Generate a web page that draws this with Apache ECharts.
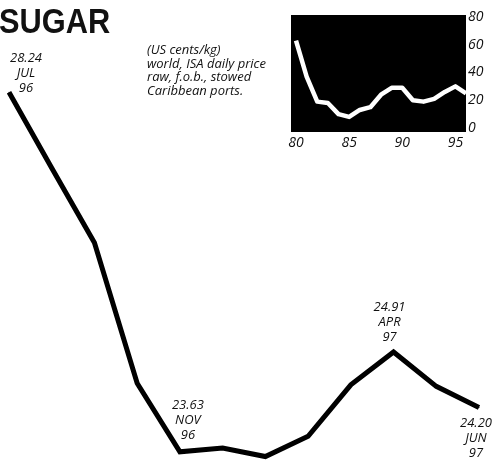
<!DOCTYPE html>
<html>
<head>
<meta charset="utf-8">
<script src="https://cdn.jsdelivr.net/npm/echarts@6/dist/echarts.min.js"></script>
<style>
html,body{margin:0;padding:0;background:#fff;}
#chart{width:495px;height:462px;}
</style>
</head>
<body>
<div id="chart"></div>
<script>
// Main chart: monthly sugar price, Jul 96 - Jun 97 (US cents/kg)
var months = ['JUL','AUG','SEP','OCT','NOV','DEC','JAN','FEB','MAR','APR','MAY','JUN'];
var monthYears = ['96','96','96','96','96','96','97','97','97','97','97','97'];
var prices = [28.24, 27.27, 26.31, 24.51, 23.63, 23.68, 23.57, 23.83, 24.49, 24.91, 24.47, 24.20];
var annotated = [0, 4, 9, 11];

// Inset: yearly prices 1980-1996
var insetYears = [80,81,82,83,84,85,86,87,88,89,90,91,92,93,94,95,96];
var insetValues = [63, 37, 19, 18, 10, 8, 13, 15, 24, 29, 29, 20, 19, 21, 26, 30, 25];
var insetYTicks = [0, 20, 40, 60, 80];
var insetXTicks = [80, 85, 90, 95];

var labelFont = '"Open Sans", Lato, "DejaVu Sans", sans-serif';
var axisFont = '"Open Sans", Lato, "DejaVu Sans", sans-serif';

var labelPlacement = {
  0: {position: 'top', distance: -4, offset: [17, 0]},
  4: {position: 'top', distance: 9, offset: [8, 0]},
  9: {position: 'top', distance: 7, offset: [-4, 0]},
  11: {position: 'bottom', distance: 8, offset: [-3, 0]}
};

var mainData = prices.map(function (v, i) {
  var item = {value: v};
  if (annotated.indexOf(i) >= 0) {
    var p = labelPlacement[i];
    item.label = {
      show: true,
      position: p.position,
      distance: p.distance,
      offset: p.offset,
      formatter: v.toFixed(2) + '\n' + months[i] + '\n' + monthYears[i],
      fontFamily: labelFont,
      fontStyle: 'italic',
      fontSize: 13,
      lineHeight: 15,
      color: '#111',
      align: 'center'
    };
  }
  return item;
});

var insetData = insetYears.map(function (y, i) { return [y, insetValues[i]]; });

var chart = echarts.init(document.getElementById('chart'), null, {renderer: 'canvas'});
chart.setOption({
  animation: false,
  backgroundColor: '#fff',
  graphic: [
    {
      type: 'text',
      x: -1,
      y: 6,
      scaleX: 0.88,
      z: 10,
      style: {
        text: 'SUGAR',
        font: 'bold 35px "Liberation Sans", Arial, sans-serif',
        fill: '#111'
      }
    },
    {
      type: 'rect',
      z: 0,
      silent: true,
      shape: {x: 291, y: 15, width: 175, height: 117},
      style: {fill: '#000'}
    },
    {
      type: 'text',
      x: 147,
      y: 44,
      z: 10,
      style: {
        text: '(US cents/kg)\nworld, ISA daily price\nraw, f.o.b., stowed\nCaribbean ports.',
        font: 'italic 13px ' + labelFont,
        lineHeight: 13.5,
        fill: '#111'
      }
    }
  ],
  grid: [
    {left: 9, right: 16, top: 72, height: 390, containLabel: false},
    {left: 296, width: 170, top: 17, height: 111, containLabel: false}
  ],
  xAxis: [
    {
      type: 'category',
      gridIndex: 0,
      data: months,
      boundaryGap: false,
      show: false
    },
    {
      type: 'value',
      gridIndex: 1,
      min: 80,
      max: 96,
      interval: 5,
      axisLine: {show: false},
      axisTick: {show: false},
      splitLine: {show: false},
      axisLabel: {
        margin: 8,
        fontFamily: axisFont,
        fontStyle: 'italic',
        fontSize: 14,
        color: '#111',
        showMaxLabel: false,
        formatter: function (v) { return insetXTicks.indexOf(v) >= 0 ? String(v) : ''; }
      }
    }
  ],
  yAxis: [
    {
      type: 'value',
      gridIndex: 0,
      min: 23.5,
      max: 28.5,
      show: false
    },
    {
      type: 'value',
      gridIndex: 1,
      position: 'right',
      min: 0,
      max: 80,
      interval: 20,
      axisLine: {show: false},
      axisTick: {show: false},
      splitLine: {show: false},
      axisLabel: {
        margin: 2,
        fontFamily: axisFont,
        fontStyle: 'italic',
        fontSize: 14,
        color: '#111',
        formatter: function (v) { return insetYTicks.indexOf(v) >= 0 ? String(v) : ''; }
      }
    }
  ],
  series: [
    {
      type: 'line',
      xAxisIndex: 0,
      yAxisIndex: 0,
      data: mainData,
      symbol: 'circle',
      symbolSize: 1,
      showSymbol: true,
      itemStyle: {color: '#000'},
      lineStyle: {color: '#000', width: 5, join: 'miter'},
      z: 5
    },
    {
      type: 'line',
      xAxisIndex: 1,
      yAxisIndex: 1,
      data: insetData,
      symbol: 'none',
      lineStyle: {color: '#fff', width: 4.5, join: 'round'},
      z: 5
    }
  ]
});
</script>
</body>
</html>
